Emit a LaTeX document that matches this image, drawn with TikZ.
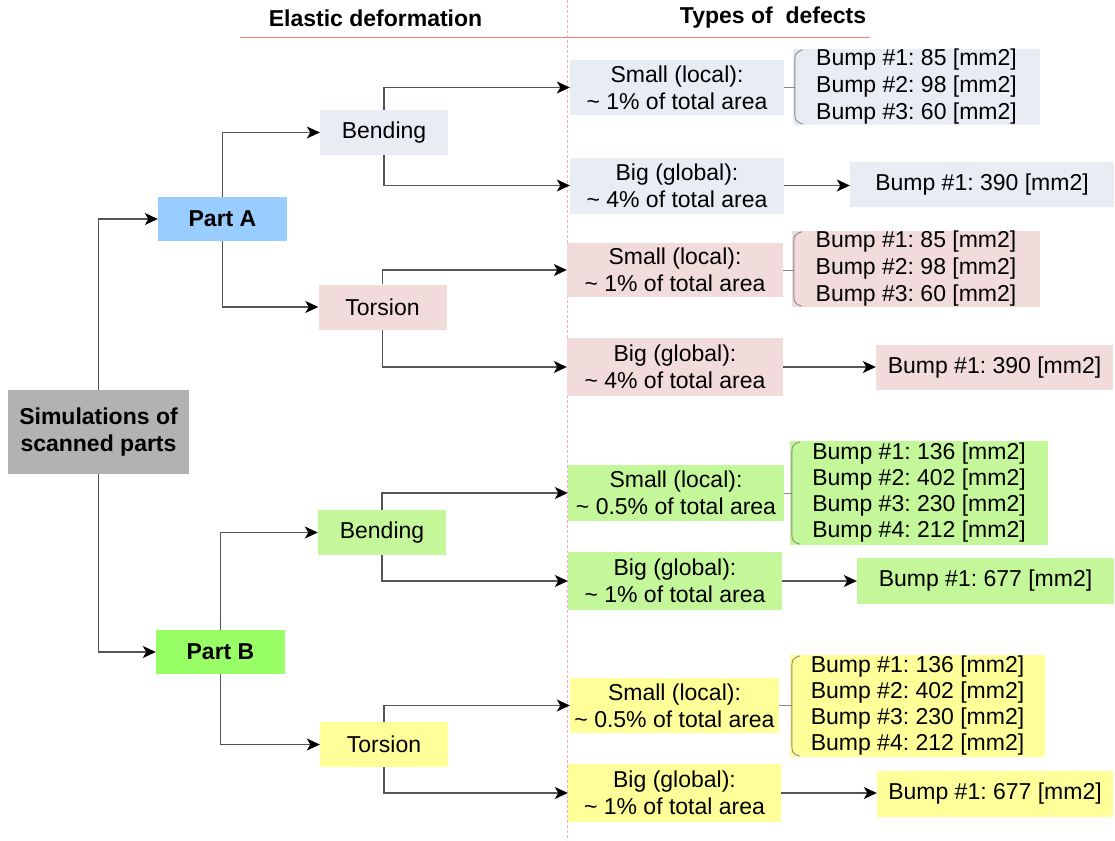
\documentclass[tikz,border=0pt]{standalone}
\usepackage{fontspec}
\setmainfont{Liberation Sans}
\usetikzlibrary{arrows.meta,positioning,calc}
\definecolor{simGrey}{HTML}{B2B2B2}
\definecolor{simBlue}{HTML}{99CCFF}
\definecolor{simGreen}{HTML}{99FF66}
\definecolor{simSteel}{HTML}{E8EDF4}
\definecolor{simRose}{HTML}{F2DCDB}
\definecolor{simLime}{HTML}{C3F79A}
\definecolor{simLemon}{HTML}{FFFF99}
\definecolor{simLine}{HTML}{555555}
\definecolor{simRule}{HTML}{F04848}
\tikzset{
  >={Stealth[length=13pt,width=12pt,inset=3.5pt,color=black]},
  base/.style={inner sep=0pt, align=center, font=\fontsize{23}{27}\selectfont},
  root/.style={base, fill=simGrey, font=\fontsize{23}{27}\selectfont\bfseries,
              minimum width=181pt, minimum height=84pt},
  part/.style={base, font=\fontsize{23}{27}\selectfont\bfseries,
              minimum width=129pt, minimum height=44pt},
  load/.style={base, minimum width=128pt, minimum height=45pt},
  defect/.style={base, minimum width=214pt, minimum height=56pt},
  bumps/.style={base, align=left, minimum height=76pt},
  one/.style={base, minimum height=45pt},
  head/.style={base, font=\fontsize{23}{27}\selectfont\bfseries},
  flow/.style={->, draw=simLine, line width=1.1pt},
  bracket/.style={draw=simLine!70, line width=0.9pt},
}
\newcommand{\area}[2]{#1\\\textasciitilde{} #2\% of total area}
\frenchspacing

\begin{document}
\begin{tikzpicture}[x=1pt,y=-1pt]
  \useasboundingbox (0,0) rectangle (1115,840);
  \draw[dash pattern=on 3pt off 2pt,draw=simRule!45,line width=0.8pt] (567,0) -- (567,840);
  \draw[draw=simRule!70,line width=0.9pt] (240,37) -- (870,37);
  \node[head] (hElastic) at (375.5,18) {Elastic deformation};
  \node[head] (hTypes) at (773,18) {Types of\ \ defects};

  \node[root] (sim) at (98.5,432) {Simulations of\\scanned parts};
  \node[part,fill=simBlue] (partA) at (222.5,219) {Part A};
  \node[part,fill=simGreen] (partB) at (220.5,652) {Part B};

  \node[load,fill=simSteel] (bendA) at (384,132.5) {Bending};
  \node[load,fill=simRose] (torsA) at (382.5,307) {Torsion};
  \node[load,fill=simLime] (bendB) at (382,532.5) {Bending};
  \node[load,fill=simLemon] (torsB) at (384,744.5) {Torsion};

  % types of defects
  \node[defect,fill=simSteel,minimum height=55pt] (smallA1) at (677,87.5) {\area{Small (local):}{1}};
  \node[defect,fill=simSteel] (bigA1) at (677,185.5) {\area{Big (global):}{4}};
  \node[defect,fill=simRose,minimum width=216pt,minimum height=54pt] (smallA2) at (675,270) {\area{Small (local):}{1}};
  \node[defect,fill=simRose,minimum width=216pt,minimum height=58pt] (bigA2) at (675,367) {\area{Big (global):}{4}};
  \node[defect,fill=simLime,minimum width=216pt] (smallB1) at (676,493) {\area{Small (local):}{0.5}};
  \node[defect,fill=simLime,minimum height=58pt] (bigB1) at (675,581) {\area{Big (global):}{1}};
  \node[defect,fill=simLemon,minimum width=209pt,minimum height=55pt] (smallB2) at (674.5,705.5) {\area{Small (local):}{0.5}};
  \node[defect,fill=simLemon,minimum width=213pt,minimum height=58pt] (bigB2) at (674.5,793) {\area{Big (global):}{1}};

  % bumps
  \node[bumps,fill=simSteel,minimum width=247pt] (grpA1) at (916.5,87)
       {Bump \#1: 85 [mm2]\\Bump \#2: 98 [mm2]\\Bump \#3: 60 [mm2]};
  \node[bumps,fill=simRose,minimum width=248pt] (grpA2) at (916,269)
       {Bump \#1: 85 [mm2]\\Bump \#2: 98 [mm2]\\Bump \#3: 60 [mm2]};
  \node[bumps,fill=simLime,minimum width=258pt,minimum height=104pt,
        font=\fontsize{23}{26}\selectfont] (grpB1) at (919,493)
       {Bump \#1: 136 [mm2]\\Bump \#2: 402 [mm2]\\Bump \#3: 230 [mm2]\\Bump \#4: 212 [mm2]};
  \node[bumps,fill=simLemon,minimum width=255pt,minimum height=102pt,
        font=\fontsize{23}{26}\selectfont] (grpB2) at (917.5,706)
       {Bump \#1: 136 [mm2]\\Bump \#2: 402 [mm2]\\Bump \#3: 230 [mm2]\\Bump \#4: 212 [mm2]};
  \node[one,fill=simSteel,minimum width=264pt] (oneA1) at (982,184.5) {Bump \#1: 390 [mm2]};
  \node[one,fill=simRose,minimum width=237pt] (oneA2) at (994.5,367.5) {Bump \#1: 390 [mm2]};
  \node[one,fill=simLime,minimum width=257pt,minimum height=46pt] (oneB1) at (985.5,581) {Bump \#1: 677 [mm2]};
  \node[one,fill=simLemon,minimum width=236pt,minimum height=46pt] (oneB2) at (995,794) {Bump \#1: 677 [mm2]};

  \draw[flow] (sim.north) |- (partA);
  \draw[flow] (sim.south) |- (partB);
  \foreach \p/\b/\t in {partA/bendA/torsA, partB/bendB/torsB}{
    \draw[flow] (\p.north) |- (\b);
    \draw[flow] (\p.south) |- (\t);}
  \foreach \l/\s/\g in {bendA/smallA1/bigA1, torsA/smallA2/bigA2,
                        bendB/smallB1/bigB1, torsB/smallB2/bigB2}{
    \draw[flow] (\l.north) |- (\s);
    \draw[flow] (\l.south) |- (\g);}
  \foreach \s/\g/\b/\o in {smallA1/grpA1/bigA1/oneA1, smallA2/grpA2/bigA2/oneA2,
                           smallB1/grpB1/bigB1/oneB1, smallB2/grpB2/bigB2/oneB2}{
    \draw[bracket] ([xshift=10pt,yshift=-1pt]\g.north west)
        .. controls ([xshift=2pt,yshift=-4pt]\g.north west) .. ([xshift=2pt,yshift=-18pt]\g.north west)
        -- ([xshift=2pt,yshift=18pt]\g.south west)
        .. controls ([xshift=2pt,yshift=4pt]\g.south west) .. ([xshift=10pt,yshift=1pt]\g.south west);
    \draw[bracket] (\s.east) -- ([xshift=2pt]\s.east -| \g.west);
    \draw[flow] (\b.east) -- (\b.east -| \o.west);}
\end{tikzpicture}
\end{document}
